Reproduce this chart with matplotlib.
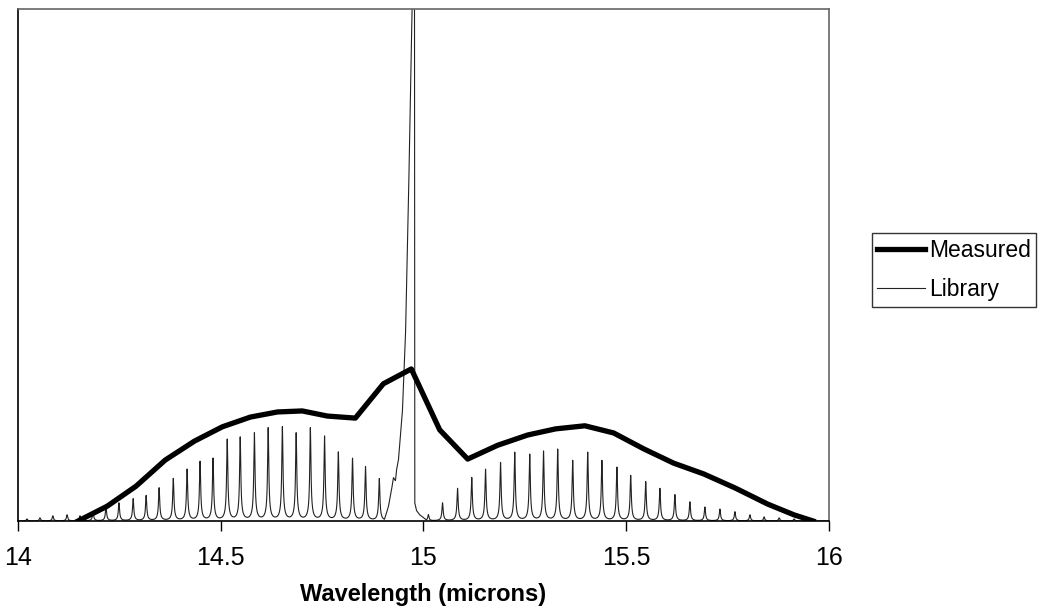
import numpy as np
import matplotlib
matplotlib.use("Agg")
import matplotlib.pyplot as plt

plt.rcParams['font.family'] = ['Liberation Sans', 'DejaVu Sans']

# measured band envelope (wavelength in microns, relative intensity)
meas_wl = [14.148, 14.220, 14.291, 14.363, 14.435, 14.504, 14.573, 14.640,
           14.701, 14.763, 14.832, 14.901, 14.970, 15.040, 15.109, 15.183,
           15.257, 15.326, 15.398, 15.469, 15.543, 15.617, 15.691, 15.770,
           15.849, 15.914, 15.961]
meas_int = [0.0, 0.029, 0.068, 0.119, 0.156, 0.184, 0.203, 0.213,
            0.215, 0.205, 0.201, 0.268, 0.297, 0.178, 0.121, 0.148,
            0.168, 0.180, 0.186, 0.172, 0.141, 0.113, 0.092, 0.064,
            0.033, 0.012, 0.0]

# library rotational lines, short-wavelength side
lines_r_wl = [14.022, 14.054, 14.086, 14.121, 14.153, 14.185, 14.217, 14.249,
              14.284, 14.316, 14.348, 14.383, 14.417, 14.449, 14.481, 14.516,
              14.548, 14.583, 14.617, 14.652, 14.686, 14.721, 14.756, 14.790,
              14.825, 14.857, 14.891]
lines_r_int = [0.004, 0.006, 0.010, 0.012, 0.010, 0.018, 0.027, 0.035,
               0.043, 0.049, 0.064, 0.082, 0.100, 0.115, 0.121, 0.158,
               0.162, 0.170, 0.180, 0.182, 0.170, 0.180, 0.164, 0.133,
               0.121, 0.105, 0.082]

# library rotational lines, long-wavelength side
lines_p_wl = [15.012, 15.047, 15.084, 15.119, 15.153, 15.190, 15.225, 15.262,
              15.296, 15.331, 15.368, 15.405, 15.440, 15.477, 15.511, 15.548,
              15.583, 15.620, 15.657, 15.694, 15.731, 15.768, 15.805, 15.840,
              15.877, 15.914, 15.951]
lines_p_int = [0.012, 0.035, 0.063, 0.084, 0.100, 0.113, 0.133, 0.129,
               0.135, 0.139, 0.117, 0.133, 0.117, 0.104, 0.088, 0.076,
               0.063, 0.051, 0.037, 0.027, 0.023, 0.018, 0.012, 0.008,
               0.006, 0.004, 0.002]

# Q-branch outline (goes off scale at the top)
q_wl = [14.9037, 14.9136, 14.9210, 14.9259, 14.9309, 14.9333, 14.9383,
        14.9432, 14.9481, 14.9531, 14.9556, 14.9630, 14.9679, 14.9728,
        14.9758, 14.9778, 14.9785, 14.9827, 14.9901, 15.0000, 15.0074]
q_int = [0.0, 0.027, 0.059, 0.084, 0.078, 0.098, 0.119,
         0.166, 0.215, 0.313, 0.361, 0.625, 0.840, 1.035,
         1.760, 1.090, 0.035, 0.020, 0.012, 0.006, 0.0]

# line shape: narrow lorentzian core plus a weak broad wing
g_core, g_wing, a_wing = 0.0017, 0.006, 0.1


def line_shape(x, c, h):
    core = g_core**2 / ((x - c)**2 + g_core**2)
    wing = a_wing * g_wing**2 / ((x - c)**2 + g_wing**2)
    return h * (core + wing) / (1 + a_wing)


wl = np.arange(14.0, 16.0001, 0.0002)
lib = np.zeros_like(wl)
for c, h in zip(lines_r_wl + lines_p_wl, lines_r_int + lines_p_int):
    lib += line_shape(wl, c, h)
lib += np.interp(wl, q_wl, q_int, left=0, right=0)

fig = plt.figure(figsize=(10.4, 6.15), dpi=100)
ax = fig.add_axes([0.0173, 0.1528, 0.7798, 0.8326])

ax.plot(wl, lib, color='#222222', linewidth=0.8, label='Library', zorder=2)
ax.plot(meas_wl, meas_int, color='black', linewidth=3.8, label='Measured',
        solid_joinstyle='round', zorder=3)

ax.set_xlim(14, 16)
ax.set_ylim(0, 1)
ax.set_xticks([14, 14.5, 15, 15.5, 16])
ax.set_xticklabels(['14', '14.5', '15', '15.5', '16'])
ax.set_yticks([])
ax.tick_params(axis='x', direction='out', length=7, width=1, pad=11,
               labelsize=18)
ax.set_xlabel('Wavelength (microns)', fontsize=17, fontweight='bold',
              labelpad=9)

for s in ['left', 'bottom']:
    ax.spines[s].set_color('black')
    ax.spines[s].set_linewidth(1.2)
for s in ['top', 'right']:
    ax.spines[s].set_color('#666666')
    ax.spines[s].set_linewidth(1.2)

handles, labels = ax.get_legend_handles_labels()
leg = fig.legend(handles[::-1], labels[::-1], loc='upper left',
                 bbox_to_anchor=(0.838, 0.621), fontsize=16.5, frameon=True,
                 fancybox=False, edgecolor='black', handlelength=2.1,
                 handletextpad=0.15, borderpad=0.25, labelspacing=0.7,
                 borderaxespad=0)
leg.get_frame().set_linewidth(1.0)

fig.savefig('out.png', dpi=100)
